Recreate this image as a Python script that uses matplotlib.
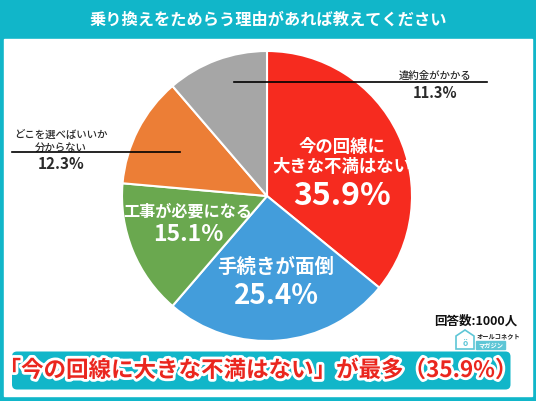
import matplotlib
matplotlib.use("Agg")
import matplotlib.pyplot as plt
from matplotlib.patches import Rectangle, FancyBboxPatch, Polygon
import matplotlib.patheffects as pe

plt.rcParams['font.family'] = ['Noto Sans CJK JP', 'DejaVu Sans']

title = "乗り換えをためらう理由があれば教えてください"
categories = ["今の回線に\n大きな不満はない", "手続きが面倒", "工事が必要になる",
              "どこを選べばいいか\n分からない", "違約金がかかる"]
values = [35.9, 25.4, 15.1, 12.3, 11.3]
colors = ["#f62b1f", "#439ddb", "#6aa84f", "#ec7e36", "#a6a6a6"]
n_label = "回答数:1000人"
banner = "「今の回線に大きな不満はない」が最多（35.9%）"

W, H = 536, 402
TEAL = "#11b6c9"

fig = plt.figure(figsize=(W / 100, H / 100), dpi=100)
ax = fig.add_axes([0, 0, 1, 1])


def Y(y):
    return H - y


# background
ax.add_patch(Rectangle((0, 0), W, H, color=TEAL, zorder=0))
ax.add_patch(Rectangle((3.5, Y(397)), 528.5, 397 - 40, color="white", zorder=1))
ax.text(W / 2, Y(20), title, color="white", fontsize=11.7, fontweight="bold",
        ha="center", va="center", zorder=2)

# pie
cx, cy, r = 267, Y(197), 145
ax.pie(values, colors=colors, startangle=90, counterclock=False,
       center=(cx, cy), radius=r,
       wedgeprops=dict(edgecolor="white", linewidth=1.5, zorder=3))

wt = dict(color="white", fontweight="bold", ha="center", va="center", zorder=5)
# red
ax.text(342, Y(147), categories[0].split("\n")[0], fontsize=12.5, **wt)
ax.text(342, Y(167), categories[0].split("\n")[1], fontsize=12.5, **wt)
ax.text(342, Y(196), f"{values[0]}%", fontsize=23, **wt)
# blue
ax.text(276, Y(267), categories[1], fontsize=14, **wt)
ax.text(276, Y(296), f"{values[1]}%", fontsize=20, **wt)
# green
ax.text(188, Y(212), categories[2], fontsize=11.6, **wt)
ax.text(188, Y(235), f"{values[2]}%", fontsize=16.5, **wt)

bt = dict(color="#2a2a2a", ha="center", va="center", zorder=5)
# gray (outside)
ax.plot([234, 487], [Y(83.3), Y(83.3)], color="black", lw=1.2, zorder=6)
ax.text(435, Y(75.5), categories[4], fontsize=7.5, fontweight="medium", **bt)
ax.text(435, Y(93.5), f"{values[4]}%", fontsize=10.5, fontweight="bold", **bt)
# orange (outside)
ax.plot([12, 180], [Y(153.3), Y(153.3)], color="black", lw=1.2, zorder=6)
ax.text(61, Y(135), categories[3].split("\n")[0], fontsize=7.5, fontweight="medium", **bt)
ax.text(61, Y(148), categories[3].split("\n")[1], fontsize=7.5, fontweight="medium", **bt)
ax.text(61, Y(164.5), f"{values[3]}%", fontsize=11, fontweight="bold", **bt)

# sample size
ax.text(476, Y(321), n_label, fontsize=9, fontweight="bold", color="#111111",
        ha="center", va="center", zorder=5)

# logo
ax.add_patch(Polygon([(456, Y(337)), (465, Y(331)), (474, Y(337)), (474, Y(350)),
                      (456, Y(350))], closed=True, facecolor="white",
                     edgecolor="#5ec6d6", lw=1.2, zorder=5))
ax.text(465, Y(344), "ö", fontsize=6, color="#5ec6d6", ha="center", va="center",
        fontweight="bold", zorder=6)
ax.text(477, Y(336), "オールコネクト", fontsize=4.5, color="#222222", ha="left",
        va="center", fontweight="bold", zorder=6)
ax.add_patch(Rectangle((476, Y(349.5)), 29, 7.5, color="#5ec6d6", zorder=5))
ax.text(490.5, Y(345.8), "マガジン", fontsize=4.5, color="white", ha="center",
        va="center", fontweight="bold", zorder=6)

# banner
ax.add_patch(FancyBboxPatch((12, Y(390.5)), 498.5, 38, boxstyle="round,pad=0,rounding_size=5",
                            facecolor=TEAL, edgecolor="none", zorder=4))
ax.text(258, Y(371.5), banner, fontsize=16.2, fontweight="bold", color="#ea261e",
        ha="center", va="center", zorder=6,
        path_effects=[pe.withStroke(linewidth=4, foreground="white")])

ax.set_xlim(0, W)
ax.set_ylim(0, H)
ax.set_aspect("auto")
ax.axis("off")

fig.savefig("out.png", dpi=100)
